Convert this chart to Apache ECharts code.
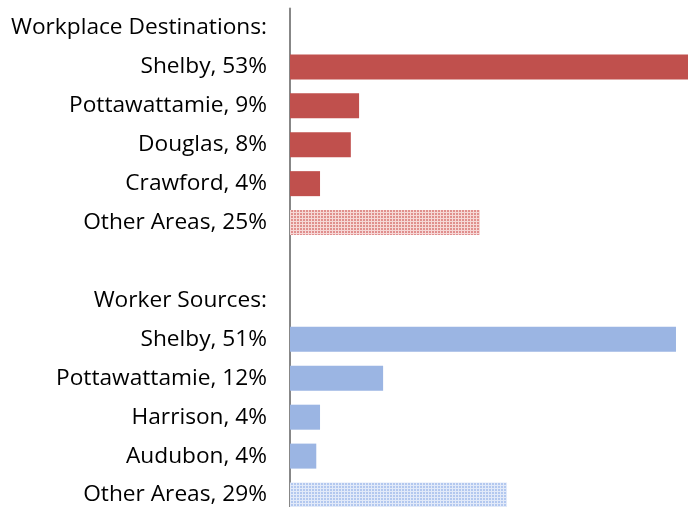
<!DOCTYPE html>
<html><head><meta charset="utf-8">
<script src="https://cdn.jsdelivr.net/npm/echarts@6/dist/echarts.min.js"></script>
<style>html,body{margin:0;padding:0;background:#fff}#c{width:688px;height:507px}</style>
</head><body><div id="c"></div>
<script>
const categories = ['Workplace Destinations:','Shelby, 53%','Pottawattamie, 9%','Douglas, 8%','Crawford, 4%','Other Areas, 25%','','Worker Sources:','Shelby, 51%','Pottawattamie, 12%','Harrison, 4%','Audubon, 4%','Other Areas, 29%'];
const workplaceValues = [null, 53.0, 9.2, 8.1, 4.0, 25.3, null, null, null, null, null, null, null];
const workerValues    = [null, null, null, null, null, null, null, null, 51.4, 12.4, 4.0, 3.5, 28.9];
const patternedIndex = [5, 12];

function makePattern(cell, line) {
  const c = document.createElement('canvas');
  c.width = 3; c.height = 3;
  const g = c.getContext('2d');
  g.fillStyle = line; g.fillRect(0,0,3,3);
  g.fillStyle = cell; g.fillRect(0,0,2,2);
  return {image: c, repeat: 'repeat'};
}
const redPat = makePattern('#E08F8E', '#F6D8D7');
const bluePat = makePattern('#B3C8EF', '#E2EAF9');

function build(vals, solid, pat) {
  return vals.map((v, i) => v == null ? null : {value: v, itemStyle: {color: patternedIndex.includes(i) ? pat : solid}});
}

const chart = echarts.init(document.getElementById('c'));
chart.setOption({
  animation: false,
  grid: {left: 290, right: 0, top: 8.5, height: 506, containLabel: false, outerBoundsMode: 'none'},
  xAxis: {type: 'value', min: 0, max: 53, show: false},
  yAxis: {
    type: 'category', inverse: true, data: categories,
    axisLine: {show: true, lineStyle: {color: '#878787', width: 2}},
    axisTick: {show: false},
    axisLabel: {color: '#000', fontFamily: 'Open Sans', fontSize: 22.7, margin: 23, interval: 0}
  },
  series: [
    {type: 'bar', stack: 'a', barWidth: 25, data: build(workplaceValues, '#C0504D', redPat)},
    {type: 'bar', stack: 'a', barWidth: 25, data: build(workerValues, '#9BB5E3', bluePat)}
  ]
});
</script></body></html>
